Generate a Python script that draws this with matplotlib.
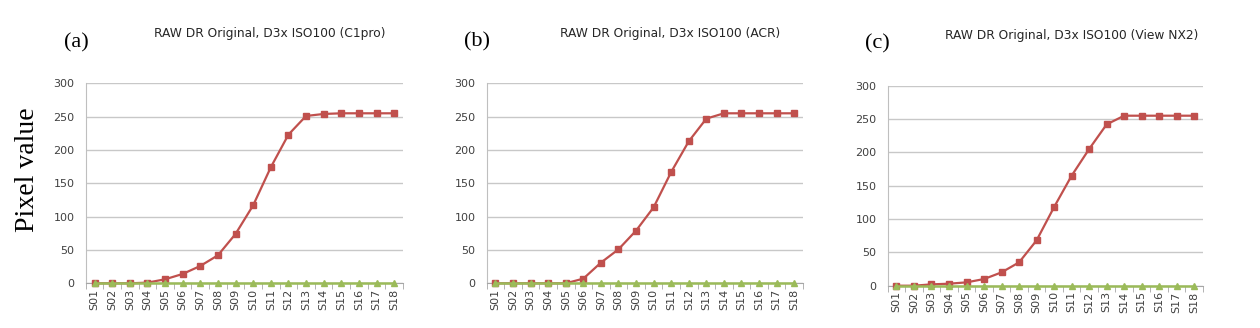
import matplotlib
matplotlib.use('Agg')
import matplotlib.pyplot as plt
import numpy as np

steps = ['S%02d' % i for i in range(1, 19)]

c1pro = [0, 0, 0, 1, 6, 14, 26, 42, 74, 117, 174, 223, 251, 254, 255, 255, 255, 255]
acr = [0, 0, 0, 0, 0, 7, 31, 51, 79, 114, 167, 213, 247, 255, 255, 255, 255, 255]
viewnx2 = [0, 0, 2, 3, 5, 10, 20, 35, 68, 118, 165, 205, 242, 255, 255, 255, 255, 255]
clipped = [0] * 18

titles = ['RAW DR Original, D3x ISO100 (C1pro)',
          'RAW DR Original, D3x ISO100 (ACR)',
          'RAW DR Original, D3x ISO100 (View NX2)']
letters = ['(a)', '(b)', '(c)']

RED = '#C0504D'
GREEN = '#9BBB59'
TXT = '#404040'

W, H = 1260, 328
fig = plt.figure(figsize=(W / 100, H / 100), dpi=100)

# axes boxes in pixels: left, right, y of top gridline, y of zero
boxes = [(85.7, 403, 83.3, 283.3),
         (486.7, 803, 83.3, 283.3),
         (887.7, 1203, 85.7, 285.7)]
title_pos = [(270, 33), (670, 33), (1072, 35)]
letter_pos = [(76, 43), (477, 42), (877, 44)]

x = np.arange(len(steps))
for k, series in enumerate([c1pro, acr, viewnx2]):
    l, r, t, b = boxes[k]
    ax = fig.add_axes([l / W, 1 - b / H, (r - l) / W, (b - t) / H])
    ax.plot(x, series, color=RED, lw=1.6, marker='s', ms=4.5, zorder=3, clip_on=False)
    ax.plot(x, clipped, color=GREEN, lw=1.8, marker='^', ms=4.5, zorder=4, clip_on=False)
    ax.set_xlim(-0.5, len(steps) - 0.5)
    ax.set_ylim(0, 300)
    ax.set_yticks(range(0, 301, 50))
    ax.yaxis.grid(True, color='#c8c8c8', lw=1)
    ax.set_axisbelow(True)
    for s in ['top', 'right']:
        ax.spines[s].set_visible(False)
    ax.spines['left'].set_color('#bfbfbf')
    ax.spines['bottom'].set_color('#a6a6a6')
    ax.set_xticks(x)
    ax.set_xticklabels(steps, rotation=90, fontsize=8, color=TXT)
    ax.set_xticks(np.arange(-0.5, len(steps)), minor=True)
    ax.tick_params(axis='x', which='major', length=0, pad=4)
    ax.tick_params(axis='x', which='minor', length=4, color='#a6a6a6', direction='out')
    ax.tick_params(axis='y', length=0, labelsize=8, labelcolor=TXT, pad=8)

    fig.text(title_pos[k][0] / W, 1 - title_pos[k][1] / H, titles[k],
             ha='center', va='center', fontsize=8.8, color='#262626')
    fig.text(letter_pos[k][0] / W, 1 - letter_pos[k][1] / H, letters[k],
             ha='center', va='center', fontsize=16, family='Liberation Serif')

fig.text(28 / W, 1 - 170 / H, 'Pixel value', rotation=90, ha='center', va='center',
         fontsize=20, family='Liberation Serif')

plt.savefig('out.png', dpi=100)
plt.close()
